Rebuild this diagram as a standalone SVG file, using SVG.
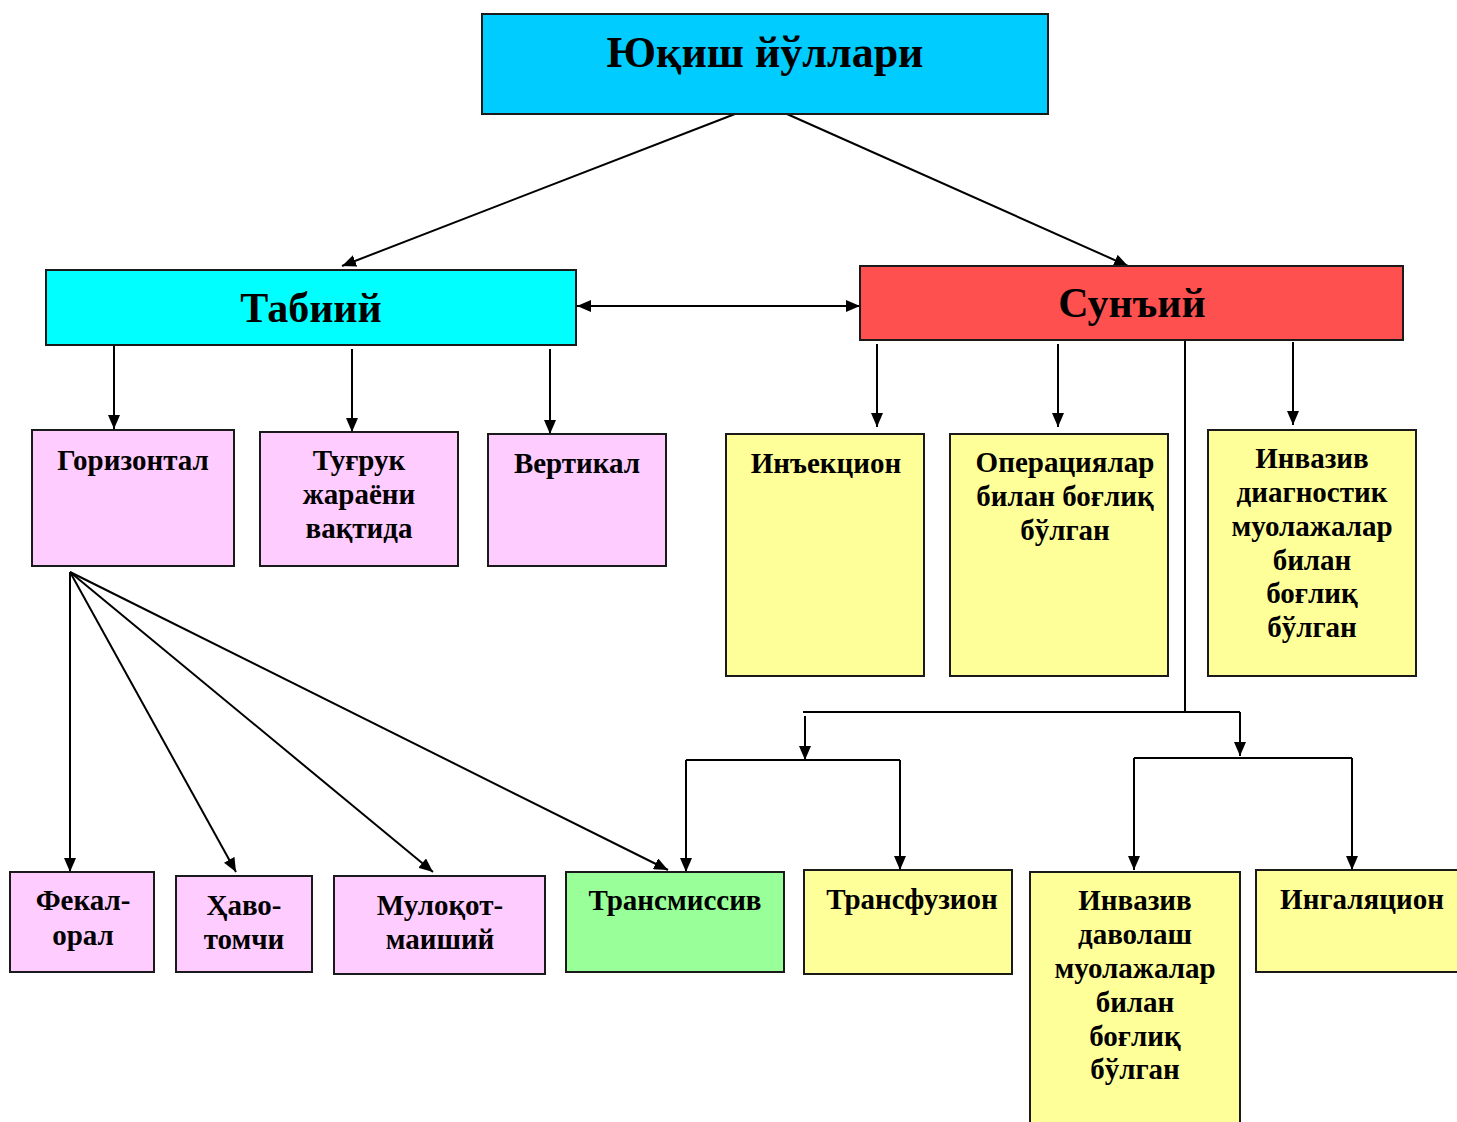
<svg xmlns="http://www.w3.org/2000/svg" width="1457" height="1122" viewBox="0 0 1457 1122">
<defs>
<marker id="ah" viewBox="0 0 14 12" refX="14" refY="6" markerWidth="14" markerHeight="12" markerUnits="userSpaceOnUse" orient="auto-start-reverse">
<path d="M0,0 L14,6 L0,12 z" fill="#000"/>
</marker>
<style>
rect{stroke:#1a1a1a;stroke-width:2}
.c{fill:#00CCFF}.t{fill:#00FFFF}.r{fill:#FF5050}.p{fill:#FFCCFF}.y{fill:#FFFF99}.g{fill:#99FF99}
text{font-family:"Liberation Serif","Times New Roman",serif;font-weight:bold;fill:#000;text-anchor:middle;font-size:29px}
.big{font-size:42px}.title{font-size:44px}
.ln{stroke:#000;stroke-width:2;fill:none}
.a{marker-end:url(#ah)}
</style>
</defs>
<g id="connectors">
<line class="ln a" x1="735" y1="114" x2="342" y2="266"/>
<line class="ln a" x1="787" y1="114" x2="1128" y2="266"/>
<line class="ln a" x1="577" y1="306" x2="860" y2="306" style="marker-start:url(#ah)"/>
<line class="ln a" x1="114" y1="345" x2="114" y2="429"/>
<line class="ln a" x1="352" y1="349" x2="352" y2="432"/>
<line class="ln a" x1="550" y1="349" x2="550" y2="434"/>
<line class="ln a" x1="877" y1="344" x2="877" y2="427"/>
<line class="ln a" x1="1058" y1="344" x2="1058" y2="427"/>
<line class="ln a" x1="1293" y1="342" x2="1293" y2="425"/>
<polyline class="ln" points="1185,341 1185,712"/>
<polyline class="ln" points="803,712 1240,712"/>
<line class="ln a" x1="805" y1="716" x2="805" y2="760"/>
<line class="ln a" x1="1240" y1="712" x2="1240" y2="756"/>
<polyline class="ln" points="686,760 900,760"/>
<line class="ln a" x1="686" y1="760" x2="686" y2="872"/>
<line class="ln a" x1="900" y1="760" x2="900" y2="870"/>
<polyline class="ln" points="1134,758 1352,758"/>
<line class="ln a" x1="1134" y1="758" x2="1134" y2="870"/>
<line class="ln a" x1="1352" y1="758" x2="1352" y2="870"/>
<line class="ln a" x1="70" y1="572" x2="70" y2="872"/>
<line class="ln a" x1="70" y1="572" x2="236" y2="872"/>
<line class="ln a" x1="70" y1="572" x2="433" y2="872"/>
<line class="ln a" x1="70" y1="572" x2="668" y2="870"/>
</g>
<g id="n-root"><rect class="c" x="482" y="14" width="566" height="100"/><text class="title" x="765" y="67">Юқиш йўллари</text></g>
<g id="n-tabiiy"><rect class="t" x="46" y="270" width="530" height="75"/><text class="big" x="311" y="322">Табиий</text></g>
<g id="n-sunyi"><rect class="r" x="860" y="266" width="543" height="74"/><text class="big" x="1132" y="317">Сунъий</text></g>
<g id="n-gorizontal"><rect class="p" x="32" y="430" width="202" height="136"/><text x="133" y="470">Горизонтал</text></g>
<g id="n-tugruk"><rect class="p" x="260" y="432" width="198" height="134"/><text x="359" y="470">Туғрук</text><text x="359" y="504">жараёни</text><text x="359" y="538">вақтида</text></g>
<g id="n-vertikal"><rect class="p" x="488" y="434" width="178" height="132"/><text x="577" y="473">Вертикал</text></g>
<g id="n-inyeksion"><rect class="y" x="726" y="434" width="198" height="242"/><text x="826" y="473">Инъекцион</text></g>
<g id="n-operatsiya"><rect class="y" x="950" y="434" width="218" height="242"/><text x="1065" y="472">Операциялар</text><text x="1065" y="506">билан боғлиқ</text><text x="1065" y="540">бўлган</text></g>
<g id="n-invaziv-diag"><rect class="y" x="1208" y="430" width="208" height="246"/><text x="1312" y="468">Инвазив</text><text x="1312" y="502">диагностик</text><text x="1312" y="536">муолажалар</text><text x="1312" y="570">билан</text><text x="1312" y="603">боғлиқ</text><text x="1312" y="637">бўлган</text></g>
<g id="n-fekal"><rect class="p" x="10" y="872" width="144" height="100"/><text x="83" y="910">Фекал-</text><text x="83" y="945">орал</text></g>
<g id="n-havo"><rect class="p" x="176" y="876" width="136" height="96"/><text x="244" y="915">Ҳаво-</text><text x="244" y="949">томчи</text></g>
<g id="n-muloqot"><rect class="p" x="334" y="876" width="211" height="98"/><text x="440" y="915">Мулоқот-</text><text x="440" y="949">маиший</text></g>
<g id="n-transmissiv"><rect class="g" x="566" y="872" width="218" height="100"/><text x="675" y="910">Трансмиссив</text></g>
<g id="n-transfuzion"><rect class="y" x="804" y="870" width="208" height="104"/><text x="912" y="909">Трансфузион</text></g>
<g id="n-invaziv-dav"><rect class="y" x="1030" y="872" width="210" height="260"/><text x="1135" y="910">Инвазив</text><text x="1135" y="944">даволаш</text><text x="1135" y="978">муолажалар</text><text x="1135" y="1012">билан</text><text x="1135" y="1046">боғлиқ</text><text x="1135" y="1079">бўлган</text></g>
<g id="n-ingalyatsion"><rect class="y" x="1256" y="870" width="210" height="102"/><text x="1362" y="909">Ингаляцион</text></g>
</svg>
